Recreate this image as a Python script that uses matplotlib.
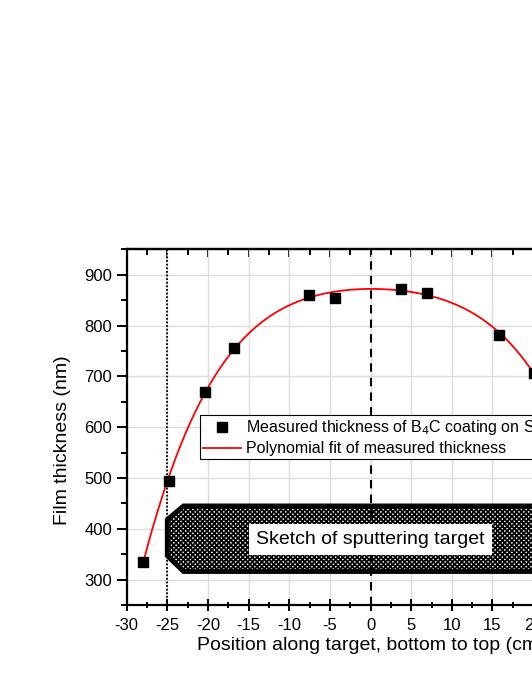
import numpy as np
import matplotlib
matplotlib.use("Agg")
import matplotlib.pyplot as plt
from matplotlib.patches import Polygon

plt.rcParams['font.family'] = ['Liberation Sans', 'DejaVu Sans']
plt.rcParams['hatch.linewidth'] = 1.3
plt.rcParams['axes.unicode_minus'] = False

# measured points (position in cm, thickness in nm)
pos = [-28.0, -24.8, -20.4, -16.8, -7.6, -4.4, 3.8, 7.0, 15.8, 20.1]
thick = [335, 494, 670, 756, 861, 854, 872, 864, 782, 707]

# sketch of the target outline (cm, nm)
target_x = [-25, -23, 23, 25, 25, 23, -23, -25]
target_y = [418, 445, 445, 418, 347, 316, 316, 347]

fig = plt.figure(figsize=(5.32, 6.88), dpi=100)
ax = fig.add_axes([0.238, 0.1206, 0.917, 0.517])

ax.set_xlim(-30, 30)
ax.set_ylim(250, 950)
ax.set_xticks(np.arange(-30, 31, 5))
ax.set_xticks(np.arange(-30, 31, 2.5), minor=True)
ax.set_yticks(np.arange(300, 901, 100))
ax.set_yticks(np.arange(250, 951, 50), minor=True)
ax.grid(True, which='major', color='#dcdcdc', lw=1.0, zorder=0)
ax.set_axisbelow(True)

for s in ax.spines.values():
    s.set_linewidth(1.6)
ax.tick_params(axis='x', which='both', direction='inout', labelsize=12, width=1.4, pad=5)
ax.tick_params(axis='x', which='major', length=9)
ax.tick_params(axis='x', which='minor', length=5)
ax.tick_params(axis='y', which='both', direction='out', labelsize=12, width=1.4)
ax.tick_params(axis='y', which='major', length=7)
ax.tick_params(axis='y', which='minor', length=4)

# top axis: inward ticks only
top = ax.secondary_xaxis('top')
top.set_xticks(np.arange(-30, 31, 5))
top.set_xticks(np.arange(-30, 31, 2.5), minor=True)
top.tick_params(which='both', direction='in', labeltop=False, width=1.4)
top.tick_params(which='major', length=6)
top.tick_params(which='minor', length=4)
top.spines['top'].set_linewidth(1.6)

# target sketch
poly = Polygon(list(zip(target_x, target_y)), closed=True, facecolor='white',
               edgecolor='black', lw=3.5, hatch='xxxxxxx', zorder=2)
ax.add_patch(poly)

ax.axvline(-25, color='black', ls=(0, (1, 1)), lw=1.3, zorder=3)
ax.axvline(0, color='black', ls=(0, (4, 3)), lw=1.5, zorder=3)

ax.text(0, 378, 'Sketch of sputtering target', fontsize=14, ha='center', va='center',
        bbox=dict(facecolor='white', edgecolor='none', pad=5), zorder=4)

coef = np.polyfit(pos, thick, 4)
xf = np.linspace(-28, 30, 300)
ax.plot(xf, np.polyval(coef, xf), color='red', lw=1.3, zorder=5,
        label='Polynomial fit of measured thickness')
ax.plot(pos, thick, 's', color='black', ms=6.5, ls='none', zorder=6,
        label='Measured thickness of B$_4$C coating on Si')

h, l = ax.get_legend_handles_labels()
leg = ax.legend(h[::-1], l[::-1], loc='upper left', bbox_to_anchor=(0.150, 0.534),
                borderaxespad=0, fontsize=11.5, fancybox=False, edgecolor='black',
                framealpha=1, handlelength=2.4, handletextpad=0.3, labelspacing=0.25,
                borderpad=0.2, markerscale=1.0)
leg.get_frame().set_linewidth(0.8)
leg.set_zorder(7)

ax.set_xlabel('Position along target, bottom to top (cm)', fontsize=14, labelpad=3)
ax.set_ylabel('Film thickness (nm)', fontsize=14)
ax.yaxis.set_label_coords(-0.115, 0.464)

fig.savefig('out.png', dpi=100)
